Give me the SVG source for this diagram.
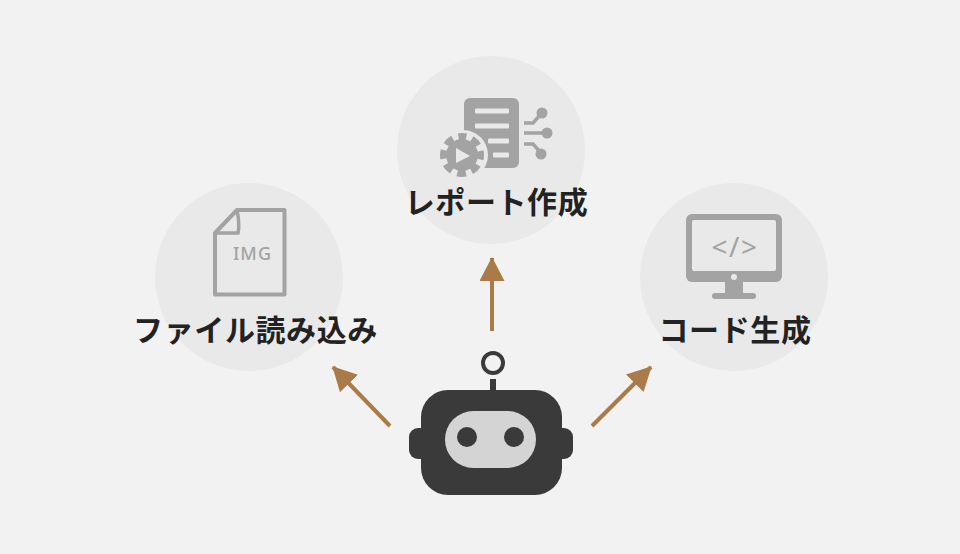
<svg xmlns="http://www.w3.org/2000/svg" width="960" height="554" viewBox="0 0 960 554">
<style>
.halo{fill:#e9e9e9}
.lbl{font-family:"Noto Sans CJK JP","Noto Sans",sans-serif;font-size:30px;font-weight:700;letter-spacing:.6px;fill:#222;text-anchor:middle}
.ic{fill:#a3a3a3}
.icl{fill:none;stroke:#a3a3a3}
.lt{fill:#e9e9e9}
.arr{stroke:#aa7b48;stroke-width:4;fill:none}
.dark{fill:#3a3a3a}
</style>
<defs>
<marker id="ah" markerUnits="userSpaceOnUse" markerWidth="26" markerHeight="26" refX="23" refY="12.5" orient="auto">
<path d="M0 0L24 12.500L0 25Z" fill="#aa7b48"/>
</marker>
</defs>
<rect width="960" height="554" fill="#f2f2f2"/>
<g id="node-report">
<circle class="halo" cx="491" cy="150" r="94"/>
<rect class="ic" x="464" y="98" width="55" height="70" rx="6"/>
<g class="lt">
<rect x="475" y="108.500" width="34" height="5" rx="1"/>
<rect x="475" y="123.500" width="34" height="5" rx="1"/>
<rect x="488" y="138.500" width="21" height="5" rx="1"/>
<rect x="493" y="152.500" width="16" height="5" rx="1"/>
</g>
<circle class="lt" cx="463" cy="155" r="25"/>
<circle class="ic" cx="462" cy="155" r="16"/>
<circle class="icl" cx="462" cy="155" r="18" stroke-width="8" stroke-dasharray="8.500 5.640" stroke-dashoffset="4.250" transform="rotate(-90 462 155)"/>
<path class="lt" d="M456 148L470 156L456 163Z"/>
<g class="icl" stroke-width="3.500">
<path d="M524 123H533L541 114"/>
<path d="M524 133H546"/>
<path d="M524 144H533L541 153"/>
</g>
<circle class="ic" cx="542" cy="113" r="5.500"/>
<circle class="ic" cx="547" cy="133" r="5.500"/>
<circle class="ic" cx="541" cy="154" r="5.500"/>
<text class="lbl" x="496.500" y="213">レポート作成</text>
</g>
<g id="node-file">
<circle class="halo" cx="249" cy="277" r="94"/>
<path class="icl" stroke-width="4" stroke-linejoin="round" d="M237 210H284.500V294.500H215V233Z"/>
<path class="icl" stroke-width="3.500" d="M237 210Q240 225 238 233H215"/>
<text x="252.500" y="260" font-family="'Noto Sans',sans-serif" font-size="18" font-weight="500" letter-spacing="1" fill="#a3a3a3" text-anchor="middle">IMG</text>
<text class="lbl" x="255.500" y="341">ファイル読み込み</text>
</g>
<g id="node-code">
<circle class="halo" cx="734" cy="277" r="94"/>
<rect class="ic" x="686" y="214" width="96" height="68" rx="6"/>
<rect class="lt" x="692" y="220" width="84" height="51" rx="2"/>
<circle class="lt" cx="734" cy="277" r="3"/>
<rect class="ic" x="725" y="282" width="18" height="12"/>
<rect class="ic" x="712" y="293" width="44" height="6" rx="3"/>
<text x="735" y="257" font-family="'Noto Sans',sans-serif" font-size="28" letter-spacing="1.500" fill="#a3a3a3" text-anchor="middle">&lt;/&gt;</text>
<text class="lbl" x="735" y="341">コード生成</text>
</g>
<g id="node-robot">
<rect class="dark" x="409" y="428" width="164" height="31" rx="9"/>
<rect class="dark" x="421" y="390" width="141" height="105" rx="27"/>
<rect class="dark" x="490" y="379" width="6" height="12"/>
<circle cx="493" cy="363" r="10" fill="none" stroke="#3a3a3a" stroke-width="4"/>
<rect x="445" y="411" width="91" height="57" rx="28.500" fill="#d4d4d4"/>
<circle class="dark" cx="467" cy="437" r="10"/>
<circle class="dark" cx="514" cy="437" r="10"/>
</g>
<g id="connectors">
<path class="arr" marker-end="url(#ah)" d="M492 331V258"/>
<path class="arr" marker-end="url(#ah)" d="M390 426L333 367"/>
<path class="arr" marker-end="url(#ah)" d="M592 426L651 367"/>
</g>
</svg>
